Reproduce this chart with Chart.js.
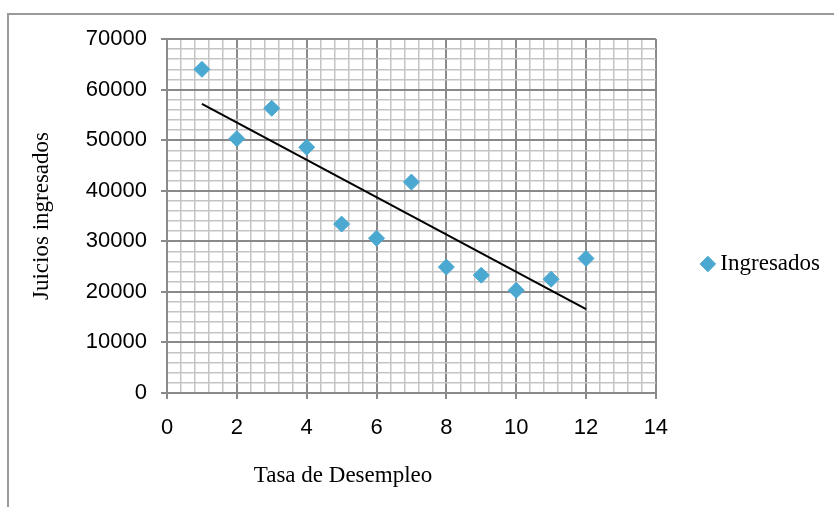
<!DOCTYPE html>
<html>
<head>
<meta charset="utf-8">
<script src="https://cdn.jsdelivr.net/npm/chart.js@4.4.1/dist/chart.umd.min.js"></script>
<style>
  html, body { margin: 0; padding: 0; background: #fff; }
  #wrap { width: 834px; height: 507px; }
</style>
</head>
<body>
<div id="wrap"><canvas id="grafico" width="834" height="507"></canvas></div>
<script>
// Datos
const tasaDesempleo = [1, 2, 3, 4, 5, 6, 7, 8, 9, 10, 11, 12];
const juiciosIngresados = [64000, 50300, 56300, 48600, 33400, 30600, 41700, 24900, 23300, 20300, 22500, 26600];
const ticksX = [0, 2, 4, 6, 8, 10, 12, 14];
const ticksY = [0, 10000, 20000, 30000, 40000, 50000, 60000, 70000];

// Línea de tendencia (mínimos cuadrados) calculada a partir de los datos
const n = tasaDesempleo.length;
const mediaX = tasaDesempleo.reduce((a, b) => a + b, 0) / n;
const mediaY = juiciosIngresados.reduce((a, b) => a + b, 0) / n;
let sxy = 0, sxx = 0;
tasaDesempleo.forEach((x, i) => {
    sxy += (x - mediaX) * (juiciosIngresados[i] - mediaY);
    sxx += (x - mediaX) * (x - mediaX);
});
const pendiente = sxy / sxx;
const xMin = Math.min(...tasaDesempleo);
const xMax = Math.max(...tasaDesempleo);
const tendencia = [xMin, xMax].map(x => ({ x: x, y: mediaY + pendiente * (x - mediaX) }));

const esMayor = (v, lista) => lista.some(t => Math.abs(t - v) < 1e-6);
const gris = '#8a8a8a';
const grisClaro = '#c4c4c4';

// Marco del gráfico y título del eje X
const marco = {
    id: 'marco',
    beforeDraw(chart) {
        const ctx = chart.ctx;
        ctx.save();
        ctx.strokeStyle = '#9a9a9a';
        ctx.lineWidth = 2;
        ctx.beginPath();
        ctx.moveTo(8, chart.height);
        ctx.lineTo(8, 14);
        ctx.lineTo(chart.width, 14);
        ctx.stroke();
        ctx.restore();
    },
    afterDraw(chart) {
        const ctx = chart.ctx;
        const area = chart.chartArea;
        ctx.save();
        ctx.font = '23px "Liberation Serif"';
        ctx.fillStyle = '#000';
        ctx.textAlign = 'center';
        ctx.textBaseline = 'middle';
        ctx.fillText('Tasa de Desempleo', area.left + 176, area.bottom + 83);
        ctx.restore();
    }
};

const ctx = document.getElementById('grafico').getContext('2d');

const grafico = new Chart(ctx, {
    type: 'scatter',
    data: {
        datasets: [
            {
                label: 'Ingresados',
                data: tasaDesempleo.map((x, i) => ({ x: x, y: juiciosIngresados[i] })),
                backgroundColor: '#4aa8d1',
                borderColor: '#4aa8d1',
                borderWidth: 1,
                pointStyle: 'rectRot',
                pointRadius: 8,
                pointHoverRadius: 8
            },
            {
                label: 'Tendencia',
                data: tendencia,
                showLine: true,
                borderColor: '#000',
                borderWidth: 2,
                pointRadius: 0,
                pointHoverRadius: 0
            }
        ]
    },
    options: {
        responsive: false,
        animation: false,
        layout: {
            padding: { top: 39, left: 10, right: 4, bottom: 18 }
        },
        plugins: {
            tooltip: { enabled: false },
            legend: {
                position: 'right',
                labels: {
                    usePointStyle: true,
                    boxWidth: 2,
                    boxHeight: 11,
                    padding: 51,
                    color: '#000',
                    font: { family: 'Liberation Serif', size: 23 },
                    filter: item => item.datasetIndex === 0
                }
            }
        },
        scales: {
            x: {
                type: 'linear',
                min: ticksX[0],
                max: ticksX[ticksX.length - 1],
                afterFit: s => { s.height = 96; },
                border: { color: gris, width: 2 },
                grid: {
                    color: c => (c.tick && esMayor(c.tick.value, ticksX)) ? gris : grisClaro,
                    lineWidth: c => (c.tick && esMayor(c.tick.value, ticksX)) ? 2 : 1.5,
                    tickColor: c => (c.tick && esMayor(c.tick.value, ticksX)) ? gris : 'rgba(0,0,0,0)',
                    tickLength: 6
                },
                ticks: {
                    stepSize: 0.4,
                    autoSkip: false,
                    maxRotation: 0,
                    padding: 16,
                    color: '#000',
                    font: { family: 'Liberation Sans', size: 22 },
                    callback: v => esMayor(v, ticksX) ? Math.round(v) : ''
                }
            },
            y: {
                min: ticksY[0],
                max: ticksY[ticksY.length - 1],
                afterFit: s => { s.width = 157; },
                border: { color: gris, width: 2 },
                grid: {
                    color: c => (c.tick && esMayor(c.tick.value, ticksY)) ? gris : grisClaro,
                    lineWidth: c => (c.tick && esMayor(c.tick.value, ticksY)) ? 2 : 1.5,
                    tickColor: c => (c.tick && esMayor(c.tick.value, ticksY)) ? gris : 'rgba(0,0,0,0)',
                    tickLength: 6
                },
                ticks: {
                    stepSize: 2000,
                    autoSkip: false,
                    padding: 14,
                    color: '#000',
                    font: { family: 'Liberation Sans', size: 22 },
                    callback: v => esMayor(v, ticksY) ? Math.round(v) : ''
                },
                title: {
                    display: true,
                    text: 'Juicios ingresados',
                    color: '#000',
                    font: { family: 'Liberation Serif', size: 23 },
                    padding: { top: 18, bottom: 0 }
                }
            }
        }
    },
    plugins: [marco]
});
</script>
</body>
</html>
